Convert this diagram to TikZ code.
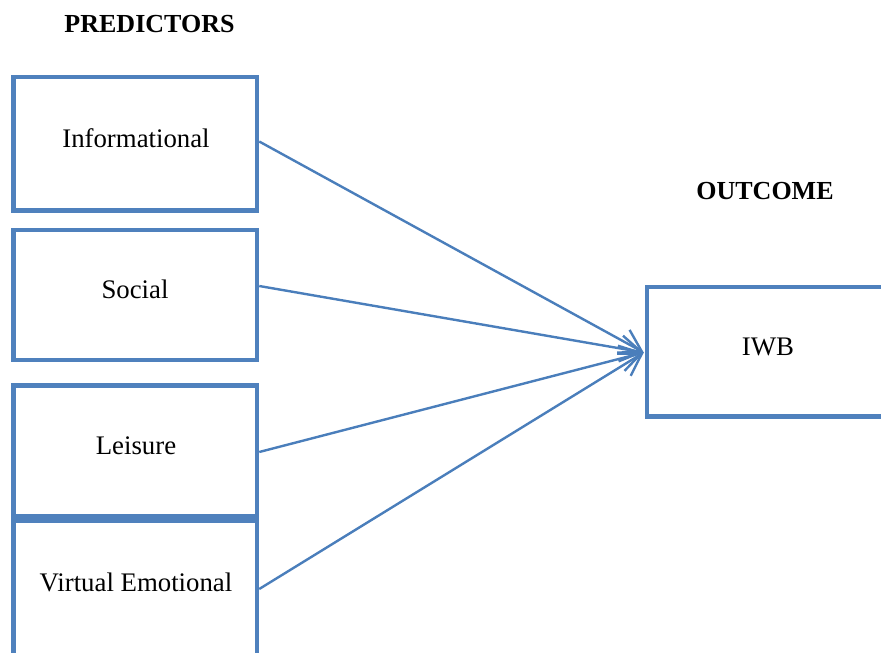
\documentclass[tikz,border=0pt]{standalone}
\usepackage{fontspec}
\setmainfont{Liberation Serif}
\usetikzlibrary{arrows.meta}
\definecolor{boxblue}{HTML}{4F81BD}
\definecolor{lineblue}{HTML}{4A7EBB}
\begin{document}
\begin{tikzpicture}[x=1pt,y=-1pt,
  box/.style={draw=boxblue,line width=4.5pt,fill=none,inner sep=0pt},
  lbl/.style={font=\fontsize{26.8}{30}\selectfont,inner sep=0pt,anchor=base},
  head/.style={font=\fontsize{26}{30}\selectfont\bfseries,inner sep=0pt,anchor=base},
  conn/.style={draw=lineblue,line width=2.4pt,-{Straight Barb[length=21pt,width=26pt,line width=2.4pt]}}]
\useasboundingbox (0,0) rectangle (881,653);
\node[head] (pred) at (149.5,32) {PREDICTORS};
\node[head] (outc) at (765,199) {OUTCOME};
% boxes
\node[box,minimum width=243.5pt,minimum height=133.5pt] (info) at (135.25,143.75) {};
\node[box,minimum width=243.5pt,minimum height=130pt] (soc) at (135.25,295) {};
\node[box,minimum width=243.5pt,minimum height=131pt] (leis) at (135.25,451) {};
\node[box,minimum width=243.5pt,minimum height=180pt] (virt) at (135.25,611) {};
\node[box,minimum width=260pt,minimum height=129.5pt] (iwb) at (777,351.75) {};
% labels
\node[lbl] (tinfo) at (136,147) {Informational};
\node[lbl] (tsoc) at (135,298) {Social};
\node[lbl] (tleis) at (136,454) {Leisure};
\node[lbl] (tvirt) at (136,591) {Virtual Emotional};
\node[lbl] (tiwb) at (768,355) {IWB};
% connectors
\coordinate (tip) at (iwb.west |- 0,352.5);
\draw[conn] (info.east |- 0,141.5) -- ([xshift=-1pt]tip);
\draw[conn] (soc.east |- 0,286) -- ([xshift=-1pt]tip);
\draw[conn] (leis.east |- 0,452) -- ([xshift=-1pt]tip);
\draw[conn] (virt.east |- 0,589) -- ([xshift=-1pt]tip);
\end{tikzpicture}
\end{document}
